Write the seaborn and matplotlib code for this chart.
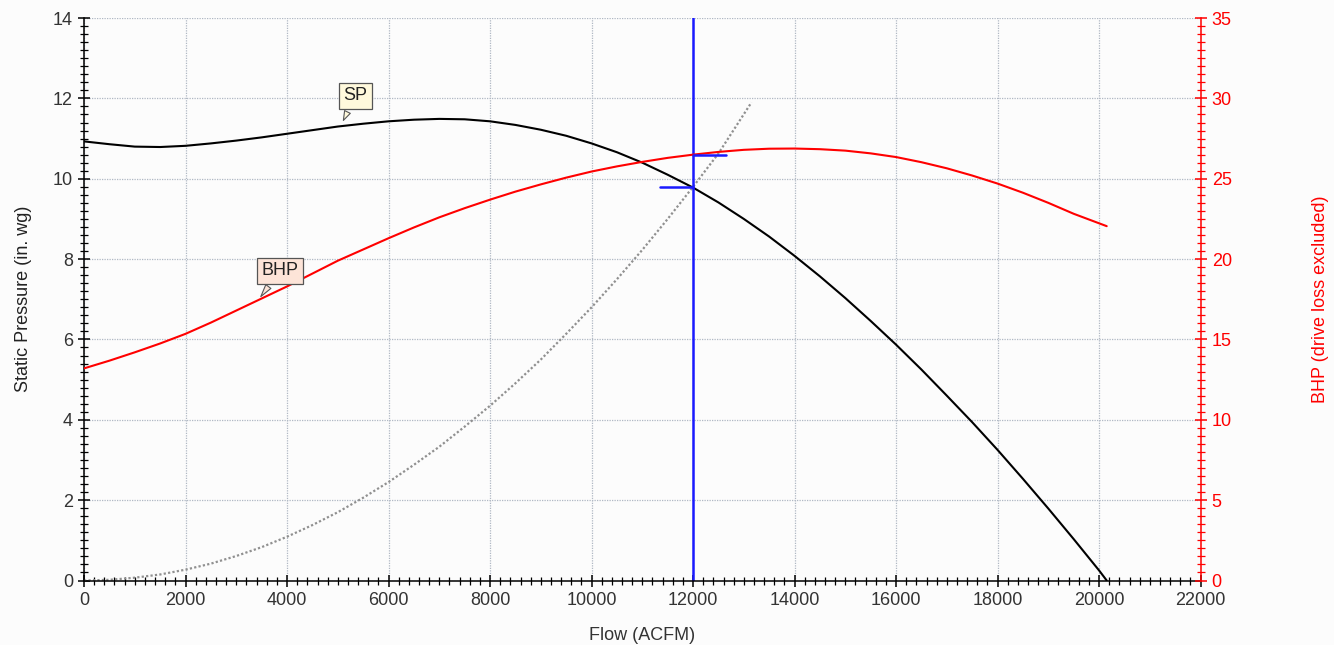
import numpy as np
import pandas as pd
import matplotlib
matplotlib.use("Agg")
import matplotlib.pyplot as plt
from matplotlib.ticker import MultipleLocator
import seaborn as sns

# Fan curve values
flow_sp = [0, 500, 1000, 1500, 2000, 2500, 3000, 3500, 4000, 4500, 5000, 5500,
           6000, 6500, 7000, 7500, 8000, 8500, 9000, 9500, 10000, 10500, 11000,
           11500, 12000, 12500, 13000, 13500, 14000, 14500, 15000, 15500, 16000,
           16500, 17000, 17500, 18000, 18500, 19000, 19500, 20000, 20150]
sp = [10.93, 10.86, 10.8, 10.79, 10.82, 10.88, 10.95, 11.03, 11.12, 11.21, 11.3, 11.37,
      11.43, 11.47, 11.49, 11.48, 11.43, 11.34, 11.22, 11.07, 10.88, 10.66, 10.4,
      10.1, 9.78, 9.41, 9.0, 8.56, 8.08, 7.57, 7.03, 6.46, 5.87,
      5.25, 4.6, 3.94, 3.25, 2.53, 1.79, 1.03, 0.25, 0.0]

flow_bhp = [0, 500, 1000, 1500, 2000, 2500, 3000, 3500, 4000, 4500, 5000, 5500,
            6000, 6500, 7000, 7500, 8000, 8500, 9000, 9500, 10000, 10500, 11000,
            11500, 12000, 12500, 13000, 13500, 14000, 14500, 15000, 15500, 16000,
            16500, 17000, 17500, 18000, 18500, 19000, 19500, 20150]
bhp = [13.2, 13.68, 14.2, 14.75, 15.35, 16.05, 16.8, 17.55, 18.3, 19.1, 19.9, 20.6,
       21.3, 21.97, 22.6, 23.17, 23.7, 24.2, 24.65, 25.07, 25.45, 25.77, 26.05,
       26.3, 26.5, 26.67, 26.8, 26.87, 26.88, 26.84, 26.75, 26.58, 26.35,
       26.03, 25.65, 25.2, 24.7, 24.13, 23.5, 22.82, 22.05]

flow_sys = [0, 500, 1000, 1500, 2000, 2500, 3000, 3500, 4000, 4500, 5000, 5500,
            6000, 6500, 7000, 7500, 8000, 8500, 9000, 9500, 10000, 10500, 11000,
            11500, 12000, 12500, 13150]
sys_sp = [0, 0.017, 0.07, 0.15, 0.27, 0.42, 0.61, 0.83, 1.09, 1.38, 1.7, 2.06,
          2.45, 2.88, 3.33, 3.83, 4.35, 4.91, 5.5, 6.14, 6.8, 7.5, 8.23,
          9.0, 9.8, 10.63, 11.9]

op_flow = 12000
op_sp = 9.8
op_bhp = 26.5

df_sp = pd.DataFrame({"flow": flow_sp, "sp": sp})
df_bhp = pd.DataFrame({"flow": flow_bhp, "bhp": bhp})
df_sys = pd.DataFrame({"flow": flow_sys, "sp": sys_sp})

sns.set_theme(style="white")
plt.rcParams["font.family"] = ["Liberation Sans", "DejaVu Sans"]
plt.rcParams["font.size"] = 12

fig, ax = plt.subplots(figsize=(13.34, 6.45), dpi=100)
fig.patch.set_facecolor("#fcfcfc")
ax.set_facecolor("#fcfcfc")
ax2 = ax.twinx()

sns.lineplot(data=df_sys, x="flow", y="sp", ax=ax, color="#909090",
             linestyle=(0, (1, 1)), linewidth=1.6)
sns.lineplot(data=df_sp, x="flow", y="sp", ax=ax, color="black", linewidth=1.5)
sns.lineplot(data=df_bhp, x="flow", y="bhp", ax=ax2, color="red", linewidth=1.5)

# operating point
ax.axvline(op_flow, color="#1a1aff", linewidth=1.8)
ax.plot([op_flow - 650, op_flow], [op_sp, op_sp], color="#1a1aff", linewidth=1.8)
ax2.plot([op_flow, op_flow + 650], [op_bhp, op_bhp], color="#1a1aff", linewidth=1.8)

ax.set_xlim(0, 22000)
ax.set_ylim(0, 14)
ax2.set_ylim(0, 35)

ax.xaxis.set_major_locator(MultipleLocator(2000))
ax.xaxis.set_minor_locator(MultipleLocator(200))
ax.yaxis.set_major_locator(MultipleLocator(2))
ax.yaxis.set_minor_locator(MultipleLocator(0.2))
ax2.yaxis.set_major_locator(MultipleLocator(5))
ax2.yaxis.set_minor_locator(MultipleLocator(0.5))

ax.grid(True, which="major", color="#b0b8c4", linestyle=(0, (1, 1)), linewidth=0.9)
ax2.grid(False)

ax.tick_params(axis="both", which="major", direction="inout", length=9, width=1.1,
               color="black", labelcolor="#333333", labelsize=13)
ax.tick_params(axis="both", which="minor", direction="inout", length=6, width=0.9,
               color="black")
ax.tick_params(axis="x", which="both", bottom=True, top=False)
ax.tick_params(axis="y", which="both", left=True, right=False)
ax2.tick_params(axis="y", which="major", direction="inout", length=9, width=1.1,
                color="red", labelcolor="red", labelsize=13, right=True)
ax2.tick_params(axis="y", which="minor", direction="inout", length=6, width=0.9,
                color="red", right=True)

ax.spines["top"].set_visible(False)
ax2.spines["top"].set_visible(False)
ax.spines["right"].set_visible(False)
ax2.spines["left"].set_visible(False)
ax2.spines["bottom"].set_visible(False)
ax.spines["left"].set_color("black")
ax.spines["bottom"].set_color("black")
ax2.spines["right"].set_color("red")
for sp_ in (ax.spines["left"], ax.spines["bottom"], ax2.spines["right"]):
    sp_.set_linewidth(1.1)

ax.set_xlabel("Flow (ACFM)", fontsize=13, color="#333333", labelpad=13)
ax.set_ylabel("Static Pressure (in. wg)", fontsize=13, color="#222222", labelpad=15)
ax2.set_ylabel("BHP (drive loss excluded)", fontsize=13, color="red", labelpad=58)

ax.annotate("SP", xy=(5086, 11.39), xytext=(5342, 12.06), fontsize=13, color="#222222",
            ha="center", va="center",
            bbox=dict(boxstyle="square,pad=0.25", fc="#fff9dc", ec="#555555", lw=0.9),
            arrowprops=dict(arrowstyle="wedge,tail_width=0.35", fc="#fff9dc",
                            ec="#555555", lw=0.8))
ax2.annotate("BHP", xy=(3450, 17.53), xytext=(3864, 19.27), fontsize=13, color="#222222",
             ha="center", va="center",
             bbox=dict(boxstyle="square,pad=0.25", fc="#fde4d8", ec="#555555", lw=0.9),
             arrowprops=dict(arrowstyle="wedge,tail_width=0.35", fc="#fde4d8",
                             ec="#555555", lw=0.8))

fig.subplots_adjust(left=0.063, right=0.9, top=0.972, bottom=0.1)
fig.savefig("out.png", dpi=100, facecolor=fig.get_facecolor())
